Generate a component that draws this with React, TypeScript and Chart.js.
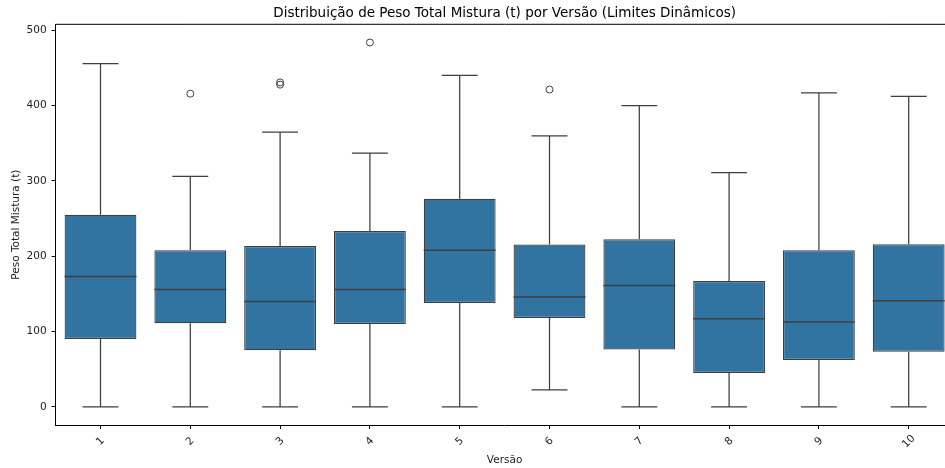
import React, { useEffect, useRef } from "react";
import { Chart, registerables } from "chart.js";

Chart.register(...registerables);

const versions = ["1", "2", "3", "4", "5", "6", "7", "8", "9", "10"];
const q1 = [90, 111, 75, 110, 138, 118, 76, 45, 62, 73];
const medians = [173, 156, 140, 156, 208, 146, 161, 117, 112.5, 141];
const q3 = [255, 208, 213.5, 233.5, 276.5, 215.5, 222.5, 167, 208, 216];
const whiskerLow = [0, 0, 0, 0, 0, 22.5, 0, 0, 0, 0];
const whiskerHigh = [456, 306, 365, 337, 440.5, 360, 400, 311, 417, 412.5];
const outlierVersions = ["2", "3", "3", "4", "6"];
const outlierValues = [416, 431, 428, 484, 421.5];
const yTicks = [0, 100, 200, 300, 400, 500];

const TITLE = "Distribuição de Peso Total Mistura (t) por Versão (Limites Dinâmicos)";
const X_TITLE = "Versão";
const Y_TITLE = "Peso Total Mistura (t)";

const FONT = "'DejaVu Sans', sans-serif";
const LINE = "#3f3f3f";

export default function App() {
  const ref = useRef<HTMLCanvasElement | null>(null);

  useEffect(() => {
    if (!ref.current) return;
    const boxPlugin = {
      id: "boxExtras",
      beforeDatasetsDraw(chart: any) {
        const ctx = chart.ctx;
        const x = chart.scales.x;
        const y = chart.scales.y;
        const meta = chart.getDatasetMeta(0);
        ctx.save();
        ctx.strokeStyle = LINE;
        ctx.lineWidth = 1.25;
        versions.forEach((v, i) => {
          const cx = x.getPixelForValue(i);
          const bw = meta.data[i] ? meta.data[i].width : 70;
          const cap = bw / 4;
          ctx.beginPath();
          ctx.moveTo(cx, y.getPixelForValue(q3[i]));
          ctx.lineTo(cx, y.getPixelForValue(whiskerHigh[i]));
          ctx.moveTo(cx - cap, y.getPixelForValue(whiskerHigh[i]));
          ctx.lineTo(cx + cap, y.getPixelForValue(whiskerHigh[i]));
          ctx.moveTo(cx, y.getPixelForValue(q1[i]));
          ctx.lineTo(cx, y.getPixelForValue(whiskerLow[i]));
          ctx.moveTo(cx - cap, y.getPixelForValue(whiskerLow[i]));
          ctx.lineTo(cx + cap, y.getPixelForValue(whiskerLow[i]));
          ctx.stroke();
        });
        ctx.restore();
      },
      afterDatasetsDraw(chart: any) {
        const ctx = chart.ctx;
        const x = chart.scales.x;
        const y = chart.scales.y;
        const meta = chart.getDatasetMeta(0);
        ctx.save();
        ctx.strokeStyle = LINE;
        ctx.lineWidth = 1.5;
        versions.forEach((v, i) => {
          const cx = x.getPixelForValue(i);
          const bw = meta.data[i] ? meta.data[i].width : 70;
          const py = y.getPixelForValue(medians[i]);
          ctx.beginPath();
          ctx.moveTo(cx - bw / 2, py);
          ctx.lineTo(cx + bw / 2, py);
          ctx.stroke();
        });
        ctx.restore();
      },
      afterDraw(chart: any) {
        const ctx = chart.ctx;
        const a = chart.chartArea;
        const x = chart.scales.x;
        ctx.save();
        ctx.strokeStyle = "#000";
        ctx.lineWidth = 1;
        ctx.beginPath();
        ctx.moveTo(a.left, a.top);
        ctx.lineTo(a.right, a.top);
        ctx.moveTo(a.right, a.top);
        ctx.lineTo(a.right, a.bottom);
        ctx.stroke();
        ctx.fillStyle = "#000";
        ctx.textAlign = "center";
        ctx.textBaseline = "middle";
        ctx.font = `13.5px ${FONT}`;
        ctx.fillText(TITLE, (a.left + a.right) / 2, 13.5);
        ctx.fillStyle = "#222";
        ctx.font = `10.5px ${FONT}`;
        ctx.fillText(X_TITLE, (a.left + a.right) / 2, 460);
        ctx.save();
        ctx.translate(16, (a.top + a.bottom) / 2);
        ctx.rotate(-Math.PI / 2);
        ctx.fillText(Y_TITLE, 0, 0);
        ctx.restore();
        versions.forEach((v, i) => {
          const cx = x.getPixelForValue(i);
          ctx.save();
          ctx.translate(cx, a.bottom + 16.5);
          ctx.rotate(-Math.PI / 4);
          ctx.fillText(v, 0, 0);
          ctx.restore();
        });
        ctx.restore();
      },
    };

    const chart = new Chart(ref.current, {
      type: "bar",
      data: {
        labels: versions,
        datasets: [
          {
            type: "bar",
            data: versions.map((_, i) => [q1[i], q3[i]]) as any,
            backgroundColor: "#3274a1",
            borderColor: LINE,
            borderWidth: 1.25,
            borderSkipped: false,
            categoryPercentage: 1,
            barPercentage: 0.8,
          },
          {
            type: "line",
            data: outlierVersions.map((v, i) => ({ x: v, y: outlierValues[i] })) as any,
            showLine: false,
            pointRadius: 3.5,
            pointBackgroundColor: "rgba(0,0,0,0)",
            pointBorderColor: LINE,
            pointBorderWidth: 1,
          } as any,
        ],
      },
      options: {
        animation: false,
        responsive: false,
        devicePixelRatio: 1,
        layout: { padding: { top: 24.3, right: 6.4, bottom: 0, left: 0 } },
        plugins: { legend: { display: false }, tooltip: { enabled: false }, title: { display: false } },
        scales: {
          x: {
            type: "category",
            offset: true,
            grid: { display: true, offset: false, drawOnChartArea: false, drawTicks: true, tickLength: 4, color: "#000" },
            border: { display: true, color: "#000", width: 1 },
            ticks: { color: "rgba(0,0,0,0)", autoSkip: false, maxRotation: 0, minRotation: 0 },
            afterFit: (s: any) => {
              s.height = 43;
            },
          },
          y: {
            type: "linear",
            min: -24.2,
            max: 508.2,
            grid: { display: true, drawOnChartArea: false, drawTicks: true, tickLength: 4, color: "#000" },
            border: { display: true, color: "#000", width: 1 },
            ticks: { color: "#222", font: { family: FONT, size: 10.5 }, padding: 5 },
            afterBuildTicks: (s: any) => {
              s.ticks = yTicks.map((v) => ({ value: v }));
            },
            afterFit: (s: any) => {
              s.width = 55.6;
            },
          },
        },
      } as any,
      plugins: [boxPlugin],
    });
    return () => chart.destroy();
  }, []);

  return (
    <div style={{ position: "absolute", left: 0, top: 0, width: 945, height: 468, overflow: "hidden", background: "#fff" }}>
      <canvas ref={ref} width={960} height={468} style={{ width: 960, height: 468, display: "block" }} />
    </div>
  );
}
